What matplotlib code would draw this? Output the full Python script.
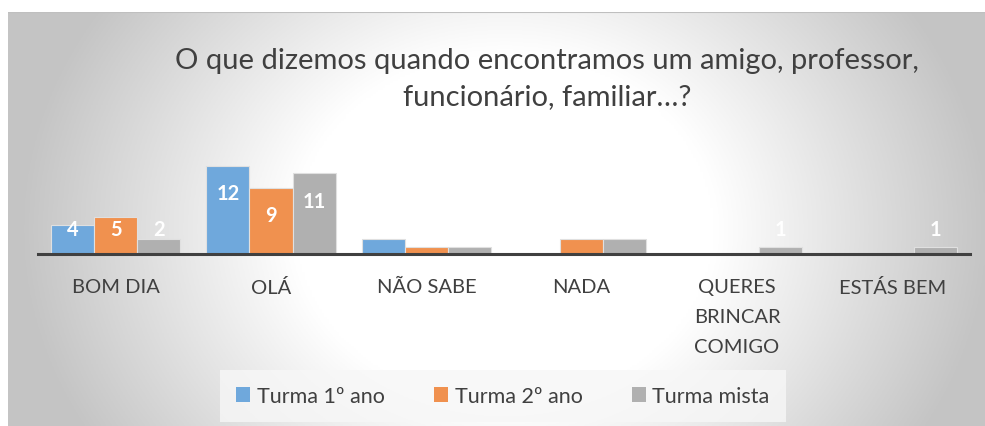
import numpy as np
import matplotlib.pyplot as plt
from matplotlib.patches import Patch

# Data
categories = ['BOM DIA', 'OLÁ', 'NÃO SABE', 'NADA', 'QUERES\nBRINCAR\nCOMIGO', 'ESTÁS BEM']
series_names = ['Turma 1º ano', 'Turma 2º ano', 'Turma mista']
turma_1 = [4, 12, 2, 0, 0, 0]
turma_2 = [5, 9, 1, 2, 0, 0]
turma_mista = [2, 11, 1, 2, 1, 1]
colors = ['#6fa8dc', '#f0914f', '#b0b0b0']

plt.rcParams['font.family'] = ['Lato', 'DejaVu Sans']

W, H = 985, 427
fig = plt.figure(figsize=(W / 100, H / 100), dpi=100)
fig.patch.set_facecolor('white')

# radial gradient background of the chart area
bg = fig.add_axes([8 / W, 0, (W - 8) / W, (H - 13) / H], zorder=-5)
xx, yy = np.meshgrid(np.linspace(8, W, 400), np.linspace(13, H, 200))
d = np.sqrt(((xx - 505) / 500) ** 2 + ((yy - 230) / 420) ** 2)
t = np.clip((d - 0.42) / 0.55, 0, 1)
shade = 1.0 - t * (1.0 - 0.77)
img = np.dstack([shade, shade, shade])
bg.imshow(img, extent=[0, 1, 0, 1], aspect='auto', origin='upper')
bg.axis('off')
bg.axhline(1, color='#bfbfbf', lw=1.5)

# main plot area
ax = fig.add_axes([38 / W, (H - 255) / H, 932 / W, 103 / H])
ax.patch.set_alpha(0)

x = np.arange(len(categories))
w = 0.277
all_series = [turma_1, turma_2, turma_mista]
for j, vals in enumerate(all_series):
    pos = x + (j - 1) * w
    ax.bar(pos, vals, width=w, color=colors[j], edgecolor='#e0e0e0',
           linewidth=0.8, label=series_names[j], zorder=2)
    for px, v in zip(pos, vals):
        if v > 0:
            ax.text(px, max(v - 3.75, 3.35), str(v), ha='center', va='center',
                    color='white', fontsize=14.5, fontweight='bold', zorder=3)

ax.set_xlim(-0.5, len(categories) - 0.5)
ax.set_ylim(0, 14)
ax.set_yticks([])
for s in ['top', 'left', 'right']:
    ax.spines[s].set_visible(False)
ax.spines['bottom'].set_color('#404040')
ax.spines['bottom'].set_linewidth(2.2)
ax.set_xticks(x)
ax.set_xticklabels(categories, fontsize=14.5, color='#404040', linespacing=1.95)
ax.tick_params(axis='x', length=0, pad=17)

fig.text(547 / W, 1 - 79 / H,
         'O que dizemos quando encontramos um amigo, professor,\nfuncionário, familiar…?',
         ha='center', va='center', fontsize=21, color='#404040', linespacing=1.5)

handles = [Patch(facecolor=c, edgecolor='none') for c in colors]
leg = fig.legend(handles, series_names, loc='center', bbox_to_anchor=(503 / W, 1 - 397 / H),
                 ncol=3, frameon=True, fontsize=15.5, handlelength=0.65, handleheight=0.65,
                 handletextpad=0.3, columnspacing=2.3, borderpad=0.75, labelcolor='#404040')
leg.get_frame().set_facecolor('#f7f7f7')
leg.get_frame().set_edgecolor('none')
leg.get_frame().set_boxstyle('square', pad=0)

fig.savefig('out.png', dpi=100)
